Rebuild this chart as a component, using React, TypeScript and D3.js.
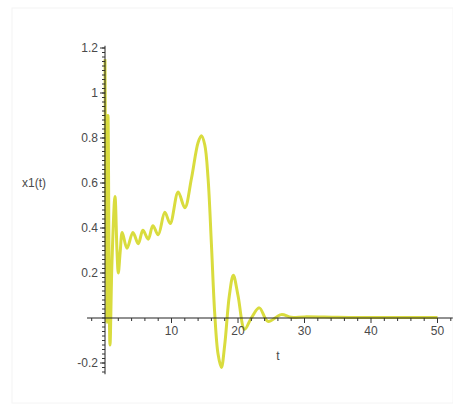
import React from 'react'
import * as d3 from 'd3'

// x1(t)
const tValues = [
  0, 0.25, 0.45, 0.75, 1.05, 1.5, 1.8, 2.0, 2.3, 2.6, 3.3, 4.2, 5.0, 5.7, 6.5, 7.2, 8.0, 9.0, 9.8,
  11.0, 12.0, 13.0, 14.0, 14.5, 15.0, 15.5, 16.0, 16.5, 17.0, 17.5, 18.0, 18.7, 19.3, 20.0,
  21.0, 22.0, 23.2, 24.5, 26.5, 28, 30, 35, 40, 45, 50
]
const x1Values = [
  1.15, -0.02, 0.9, -0.12, 0.25, 0.54, 0.3, 0.2, 0.3, 0.38, 0.31, 0.38, 0.33, 0.39, 0.35, 0.41, 0.37,
  0.47, 0.42, 0.56, 0.49, 0.62, 0.78, 0.81, 0.77, 0.62, 0.33, 0.02, -0.16, -0.22, -0.12, 0.1,
  0.19, 0.1, -0.05, 0.0, 0.045, -0.015, 0.015, 0.003, 0.005, 0.003, 0.002, 0.002, 0.002
]
const xTicks = [10, 20, 30, 40, 50]
const yTicks = [-0.2, 0.2, 0.4, 0.6, 0.8, 1, 1.2]

const W = 453
const H = 409

export default function App() {
  const x = d3.scaleLinear().domain([0, 50]).range([105, 437.5])
  const y = d3.scaleLinear().domain([0, 1.2]).range([318, 48])

  const data = tValues.map((t, i) => [t, x1Values[i]] as [number, number])
  const line = d3
    .line<[number, number]>()
    .x(d => x(d[0]))
    .y(d => y(d[1]))
    .curve(d3.curveCatmullRom.alpha(0.5))

  const xMinor = d3.range(-2, 53, 2).filter(t => t % 10 !== 0)
  const yMinor = d3.range(-0.24, 1.201, 0.02).map(v => Math.round(v * 100) / 100)

  const x0 = x(0)
  const y0 = y(0)

  return (
    <svg
      width={W}
      height={H}
      style={{ position: 'absolute', left: 0, top: 0 }}
      fontFamily="Liberation Sans, Arial, sans-serif"
    >
      <rect x={0} y={0} width={W} height={H} fill="#fff" />
      <rect x={12} y={8} width={W - 12} height={H - 14} fill="none" stroke="#f4f4f4" />

      {/* curve */}
      <path d={line(data) || ''} fill="none" stroke="#d9dc3e" strokeWidth={3} strokeLinejoin="round" />

      {/* axes */}
      <line x1={x(-2.7)} x2={x(52.3)} y1={y0} y2={y0} stroke="#222" strokeWidth={1} />
      <line x1={x0} x2={x0} y1={y(1.21)} y2={y(-0.25)} stroke="#222" strokeWidth={1} />

      {xMinor.map(t => (
        <line key={'xm' + t} x1={x(t)} x2={x(t)} y1={y0} y2={y0 + 3} stroke="#333" />
      ))}
      {xTicks.map(t => (
        <g key={'xt' + t}>
          <line x1={x(t)} x2={x(t)} y1={y0} y2={y0 + 5} stroke="#333" />
          <text x={x(t)} y={y0 + 17} textAnchor="middle" fontSize={12} fill="#4a4a4a">
            {t}
          </text>
        </g>
      ))}

      {yMinor.map(v => (
        <line key={'ym' + v} x1={x0 - 3} x2={x0} y1={y(v)} y2={y(v)} stroke="#333" />
      ))}
      {yTicks.map(v => (
        <g key={'yt' + v}>
          <line x1={x0 - 5} x2={x0} y1={y(v)} y2={y(v)} stroke="#333" />
          <text x={x0 - 7} y={y(v) + 4} textAnchor="end" fontSize={12} fill="#4a4a4a">
            {v}
          </text>
        </g>
      ))}

      <text x={x(26)} y={y0 + 42} textAnchor="middle" fontSize={12} fill="#4a4a4a">
        t
      </text>
      <text x={34} y={y(0.6) + 4} textAnchor="middle" fontSize={12} fill="#4a4a4a">
        x1(t)
      </text>
    </svg>
  )
}
